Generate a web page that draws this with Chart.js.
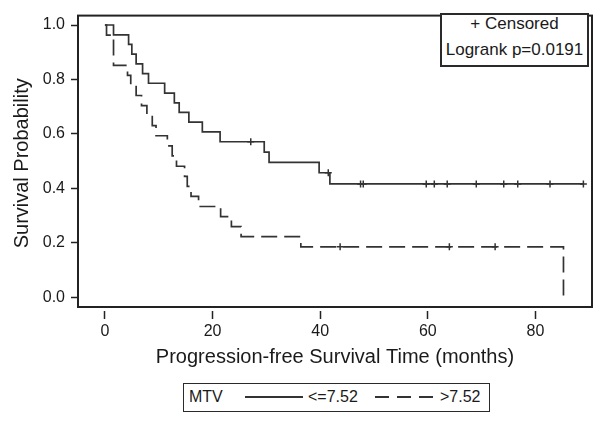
<!DOCTYPE html>
<html>
<head>
<meta charset="utf-8">
<script src="https://cdn.jsdelivr.net/npm/chart.js@4/dist/chart.umd.min.js"></script>
<style>
  html, body { margin: 0; padding: 0; background: #fff; }
  #wrap { position: relative; width: 602px; height: 423px; font-family: "Liberation Sans", Arial, sans-serif; color: #1a1a1a; }
  #c { position: absolute; left: 0; top: 0; }
  .box { position: absolute; box-sizing: border-box; border: 2px solid #2a2a2a; background: #fff; }
  .txt { position: absolute; white-space: nowrap; line-height: 20px; }
</style>
</head>
<body>
<div id="wrap">
  <canvas id="c" width="602" height="423"></canvas>
  <div class="box" style="left:440px;top:13px;width:149px;height:54px;">
    <div class="txt" id="in1" style="left:0;right:0;top:-1px;text-align:center;font-size:17px;"></div>
    <div class="txt" id="in2" style="left:0;right:0;top:25px;text-align:center;font-size:17px;"></div>
  </div>
  <div class="box" style="left:183px;top:383px;width:307px;height:29px;border-width:1.5px;"></div>
  <div class="txt" id="legTitle" style="left:189px;top:387px;font-size:16px;"></div>
  <div style="position:absolute;left:245px;top:396px;width:58px;height:1.6px;background:#333;"></div>
  <div class="txt" id="leg1" style="left:308px;top:387px;font-size:16px;"></div>
  <div style="position:absolute;left:375px;top:396px;width:60px;height:1.6px;background:repeating-linear-gradient(to right,#333 0 14px,transparent 14px 22px);"></div>
  <div class="txt" id="leg2" style="left:440px;top:387px;font-size:16px;"></div>
</div>
<script>
// ---- data ----
const groupName = 'MTV';
const seriesLabels = ['<=7.52', '>7.52'];

// MTV <= 7.52 (solid): step times (months) and survival after each step
const lowTimes = [0, 1.6, 4.4, 5.0, 5.8, 7.0, 8.1, 11.1, 12.9, 13.8, 15.6, 18.1, 21.4, 29.6, 30.5, 39.8, 41.8, 88.9];
const lowSurv  = [1.0, 0.964, 0.929, 0.893, 0.857, 0.821, 0.786, 0.750, 0.714, 0.679, 0.643, 0.607, 0.571, 0.533, 0.495, 0.457, 0.416, 0.416];
const lowCensor = [27.1, 41.5, 47.5, 48.0, 59.7, 61.2, 63.6, 69.0, 74.1, 76.7, 82.7, 88.9];

// MTV > 7.52 (dashed)
const highTimes = [0, 0.3, 1.6, 4.2, 4.8, 5.8, 6.8, 7.8, 8.8, 9.5, 11.6, 12.5, 13.3, 14.8, 15.3, 16.0, 17.4, 21.5, 23.5, 25.3, 36.4, 85.2];
const highSurv  = [1.0, 0.963, 0.852, 0.815, 0.778, 0.741, 0.704, 0.667, 0.630, 0.593, 0.556, 0.519, 0.481, 0.444, 0.407, 0.370, 0.333, 0.296, 0.259, 0.222, 0.185, 0.0];
const highCensor = [43.7, 64.0, 72.5];

const xTicks = [0, 20, 40, 60, 80];
const yTicks = [0.0, 0.2, 0.4, 0.6, 0.8, 1.0];

const insetLines = ['+ Censored', 'Logrank p=0.0191'];
const xTitle = 'Progression-free Survival Time (months)';
const yTitle = 'Survival Probability';

// ---- build ----
document.getElementById('legTitle').textContent = groupName;
document.getElementById('leg1').textContent = seriesLabels[0];
document.getElementById('leg2').textContent = seriesLabels[1];
document.getElementById('in1').textContent = insetLines[0];
document.getElementById('in2').textContent = insetLines[1];

function survAt(times, surv, t) {
  let s = surv[0];
  for (let i = 0; i < times.length; i++) if (times[i] <= t) s = surv[i];
  return s;
}
const toPts = (ts, ss) => ts.map((t, i) => ({ x: t, y: ss[i] }));
const censorPts = (cs, ts, ss) => cs.map(t => ({ x: t, y: survAt(ts, ss, t) }));

const LINE = '#333';
const FONT = '"Liberation Sans", Arial, sans-serif';

const framePlugin = {
  id: 'frame',
  beforeDatasetsDraw(chart) {
    const { ctx, chartArea: a } = chart;
    ctx.save();
    ctx.strokeStyle = '#222';
    ctx.lineWidth = 2;
    ctx.strokeRect(a.left, a.top, a.right - a.left, (a.bottom - 4) - a.top);
    ctx.restore();
  }
};

new Chart(document.getElementById('c'), {
  type: 'line',
  data: {
    datasets: [
      { label: seriesLabels[0], data: toPts(lowTimes, lowSurv), stepped: true,
        borderColor: LINE, borderWidth: 1.7, pointRadius: 0, fill: false },
      { label: seriesLabels[1], data: toPts(highTimes, highSurv), stepped: true,
        borderColor: LINE, borderWidth: 1.7, borderDash: [16, 7], pointRadius: 0, fill: false },
      { label: 'censor1', data: censorPts(lowCensor, lowTimes, lowSurv), showLine: false,
        pointStyle: 'cross', pointRadius: 3.5, pointBorderWidth: 1.5, pointBorderColor: LINE, borderColor: LINE },
      { label: 'censor2', data: censorPts(highCensor, highTimes, highSurv), showLine: false,
        pointStyle: 'cross', pointRadius: 3.5, pointBorderWidth: 1.5, pointBorderColor: LINE, borderColor: LINE }
    ]
  },
  options: {
    responsive: false,
    animation: false,
    devicePixelRatio: 1,
    layout: { padding: { top: 7, right: 10, left: 0, bottom: 0 } },
    plugins: { legend: { display: false }, tooltip: { enabled: false } },
    scales: {
      x: {
        type: 'linear', min: -5, max: 90.5,
        afterFit(s) { s.height = 112; },
        afterBuildTicks(s) { s.ticks = xTicks.map(v => ({ value: v })); },
        grid: { drawOnChartArea: false, drawTicks: true, tickLength: 8, tickColor: '#222', tickWidth: 1.5 },
        border: { display: false },
        ticks: { color: '#1a1a1a', font: { family: FONT, size: 16 }, padding: 3, maxRotation: 0,
                 callback: v => String(v) },
        title: { display: true, text: xTitle, color: '#1a1a1a', font: { family: FONT, size: 20 },
                 padding: { top: 0, bottom: 54 } }
      },
      y: {
        type: 'linear', min: -0.051, max: 1.0346,
        afterFit(s) { s.width = 78; },
        afterBuildTicks(s) { s.ticks = yTicks.map(v => ({ value: v })); },
        grid: { drawOnChartArea: false, drawTicks: true, tickLength: 7, tickColor: '#222', tickWidth: 1.5 },
        border: { display: false },
        ticks: { color: '#1a1a1a', font: { family: FONT, size: 16 }, padding: 6,
                 callback: v => Number(v).toFixed(1) },
        title: { display: true, text: yTitle, color: '#1a1a1a', font: { family: FONT, size: 20 },
                 padding: { top: 10, bottom: 0 } }
      }
    }
  },
  plugins: [framePlugin]
});
</script>
</body>
</html>
